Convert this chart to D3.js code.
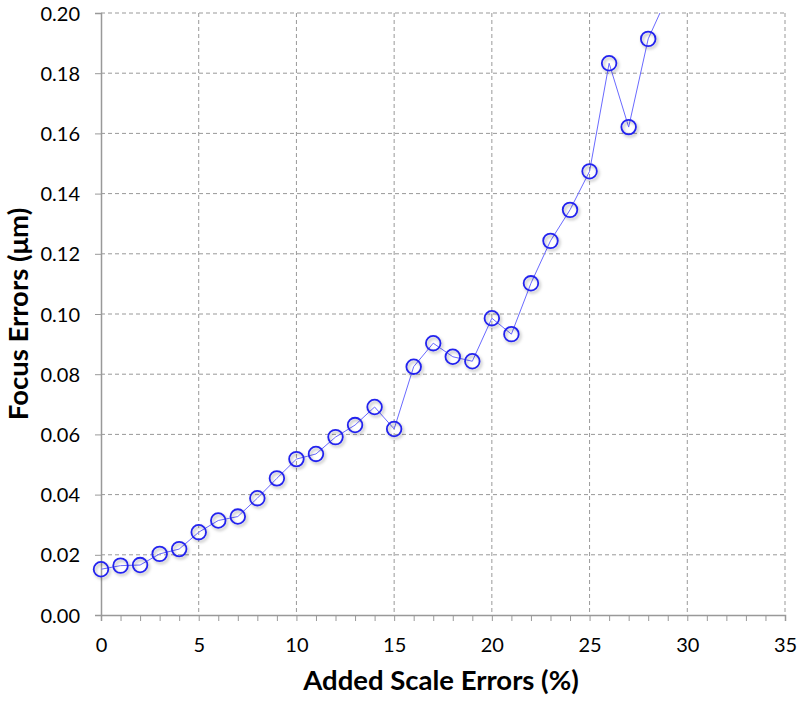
<!DOCTYPE html>
<html lang="en">
<head>
  <meta charset="UTF-8">
  <title>Focus Errors vs Added Scale Errors</title>
  <style>
    body { margin: 0; background: #fff; }
    svg text { font-family: Lato, "Open Sans", sans-serif; fill: #000; }
  </style>
</head>
<body>
  <svg id="svg" width="800" height="702"></svg>

  <script src="https://d3js.org/d3.v7.min.js"></script>
  <script>
    // added scale error (%) and the focus error (um)
    const scaleErr = [0, 1, 2, 3, 4, 5, 6, 7, 8, 9, 10, 11, 12, 13, 14,
                      15, 16, 17, 18, 19, 20, 21, 22, 23, 24, 25, 26, 27, 28, 29]
    const focusErr = [0.0152, 0.0164, 0.0166, 0.0203, 0.0219, 0.0275, 0.0314, 0.0327,
                      0.0388, 0.0454, 0.0518, 0.0535, 0.0591, 0.0631, 0.0691, 0.0618,
                      0.0825, 0.0903, 0.0858, 0.0843, 0.0986, 0.0933, 0.1102, 0.1243,
                      0.1346, 0.1474, 0.1833, 0.1621, 0.1914, 0.2057]
    const xTicks = [0, 5, 10, 15, 20, 25, 30, 35]
    const yTicks = [0, 0.02, 0.04, 0.06, 0.08, 0.10, 0.12, 0.14, 0.16, 0.18, 0.20]

    const data = scaleErr.map((x, i) => ({ x: x, y: focusErr[i] }))

    const margin = { top: 13, right: 15, bottom: 87, left: 101 }
    const width = 800 - margin.left - margin.right
    const height = 702 - margin.top - margin.bottom

    const xscale = d3.scaleLinear().domain([0, 35]).range([0, width])
    const yscale = d3.scaleLinear().domain([0, 0.2]).range([height, 0])

    const svg = d3.select('#svg')

    // soft shadow under the markers
    const defs = svg.append('defs')
    const shadow = defs.append('filter').attr('id', 'shadow')
      .attr('x', '-50%').attr('y', '-50%').attr('width', '200%').attr('height', '200%')
    shadow.append('feDropShadow')
      .attr('dx', 1.5).attr('dy', 2).attr('stdDeviation', 1.5)
      .attr('flood-color', '#000').attr('flood-opacity', 0.3)
    defs.append('clipPath').attr('id', 'clip')
      .append('rect').attr('x', 0).attr('y', 0).attr('width', width).attr('height', height)

    const g = svg.append('g').attr('transform', `translate(${margin.left}, ${margin.top})`)

    // dashed grid
    g.append('g').selectAll('line').data(yTicks.slice(1)).enter().append('line')
      .attr('x1', 0).attr('x2', width)
      .attr('y1', d => yscale(d)).attr('y2', d => yscale(d))
      .attr('stroke', '#999').attr('stroke-dasharray', '4,3')
    g.append('g').selectAll('line').data(xTicks.slice(1)).enter().append('line')
      .attr('x1', d => xscale(d)).attr('x2', d => xscale(d))
      .attr('y1', 0).attr('y2', height)
      .attr('stroke', '#999').attr('stroke-dasharray', '4,3')

    // axes
    const bottomAxis = d3.axisBottom(xscale).tickValues(d3.range(0, 36, 1))
      .tickSize(6).tickFormat(d => xTicks.includes(d) ? d : '')
    const leftAxis = d3.axisLeft(yscale).tickValues(yTicks)
      .tickSize(6).tickFormat(d3.format('.2f'))

    const gx = g.append('g').attr('transform', `translate(0, ${height})`).call(bottomAxis)
    gx.selectAll('text').attr('dy', '0').attr('y', 37).style('font-size', '20px')
    const gy = g.append('g').call(leftAxis)
    gy.selectAll('text').attr('x', -21).attr('dy', '0.35em').style('font-size', '20px')
    ;[gx, gy].forEach(a => {
      a.select('.domain').attr('stroke', '#999').attr('stroke-width', 1.5)
      a.selectAll('.tick line').attr('stroke', '#999')
    })

    // line and markers
    const line = d3.line().x(d => xscale(d.x)).y(d => yscale(d.y))
    g.append('path').datum(data)
      .attr('clip-path', 'url(#clip)')
      .attr('d', line)
      .attr('fill', 'none').attr('stroke', '#6a6aff').attr('stroke-width', 1)

    g.append('g').selectAll('circle').data(data.filter(d => d.y <= 0.2)).enter().append('circle')
      .attr('cx', d => xscale(d.x)).attr('cy', d => yscale(d.y))
      .attr('r', 7.3)
      .attr('fill', 'none').attr('stroke', '#2222ee').attr('stroke-width', 1.8)
      .attr('filter', 'url(#shadow)')

    // titles
    svg.append('text')
      .attr('x', 441).attr('y', 690)
      .attr('text-anchor', 'middle')
      .style('font-size', '27.5px').style('font-weight', 'bold')
      .text('Added Scale Errors (%)')
    svg.append('text')
      .attr('transform', `translate(28, ${margin.top + height / 2}) rotate(-90)`)
      .attr('text-anchor', 'middle')
      .style('font-size', '27.5px').style('font-weight', 'bold')
      .text('Focus Errors (μm)')
  </script>
</body>
</html>
